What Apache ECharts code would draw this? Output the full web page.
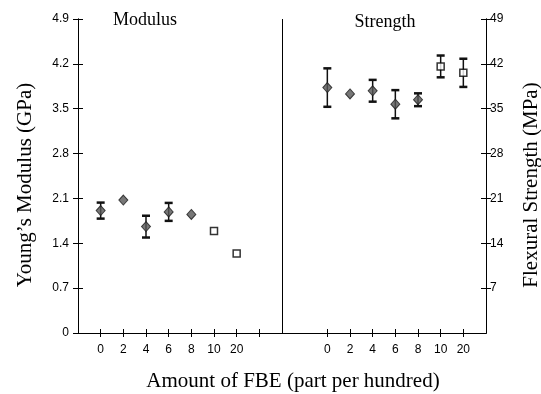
<!DOCTYPE html>
<html>
<head>
<meta charset="utf-8">
<style>html,body{margin:0;padding:0;background:#fff}#c{width:541px;height:394px}</style>
<script src="https://cdn.jsdelivr.net/npm/echarts@6/dist/echarts.min.js"></script>
</head>
<body>
<div id="c"></div>
<script>
// ---- data ----
var categories = ['0', '2', '4', '6', '8', '10', '20'];
var modulusMean = [1.91, 2.075, 1.66, 1.89, 1.85, 1.59, 1.24];
var modulusErr  = [0.125, 0, 0.17, 0.14, 0, 0, 0];
var strengthMean = [38.3, 37.3, 37.8, 35.7, 36.4, 41.6, 40.6];
var strengthErr  = [3.0, 0, 1.7, 2.2, 1.0, 1.7, 2.2];
var modulusTicks = [0, 0.7, 1.4, 2.1, 2.8, 3.5, 4.2, 4.9];
var strengthTicks = [0, 7, 14, 21, 28, 35, 42, 49];

// ---- layout helpers (slots on the shared x axis) ----
var NSLOT = 19;
var leftStart = 1, rightStart = 11, divider = 9;
var slots = [], slotLabel = {};
for (var s = 0; s < NSLOT; s++) slots.push(String(s));
categories.forEach(function (c, i) { slotLabel[leftStart + i] = c; slotLabel[rightStart + i] = c; });
function tickSlot(i) { return (i >= 1 && i <= 8) || (i >= 11 && i <= 17); }

function pts(means, start, from, to) {
  var out = [];
  for (var i = from; i < to; i++) out.push([start + i, means[i]]);
  return out;
}
function errs(means, e, start) {
  var out = [];
  for (var i = 0; i < means.length; i++) if (e[i] > 0) out.push([start + i, means[i] - e[i], means[i] + e[i]]);
  return out;
}
function errRender(params, api) {
  var x = api.value(0);
  var lo = api.coord([x, api.value(1)]);
  var hi = api.coord([x, api.value(2)]);
  var w = 4;
  return {
    type: 'group',
    children: [
      { type: 'line', shape: { x1: lo[0], y1: lo[1], x2: hi[0], y2: hi[1] }, style: { stroke: '#111', lineWidth: 1.5 } },
      { type: 'line', shape: { x1: lo[0] - w, y1: lo[1], x2: lo[0] + w, y2: lo[1] }, style: { stroke: '#111', lineWidth: 2.5 } },
      { type: 'line', shape: { x1: hi[0] - w, y1: hi[1], x2: hi[0] + w, y2: hi[1] }, style: { stroke: '#111', lineWidth: 2.5 } }
    ]
  };
}

var sans = 'Liberation Sans, Arial, sans-serif';
var serif = 'Liberation Serif, Times New Roman, serif';
var grid = { left: 78, right: 55, top: 19, bottom: 61 };

function xAx(main) {
  return {
    type: 'category', data: slots, boundaryGap: false,
    position: 'bottom',
    axisLine: { show: true, onZero: false, lineStyle: { color: '#000', width: 1 } },
    axisTick: { show: true, inside: !main, length: 4, interval: function (i) { return tickSlot(i); }, lineStyle: { color: '#000', width: 1 } },
    axisLabel: { show: main, interval: 0, margin: 11, color: '#000', fontFamily: sans, fontSize: 12,
      formatter: function (v, i) { return slotLabel[i] || ''; } },
    splitLine: { show: false }
  };
}
function yAx(pos, max, interval, main, fmt, showMin) {
  return {
    type: 'value', position: pos, min: 0, max: max, interval: interval,
    axisLine: { show: true, onZero: false, lineStyle: { color: '#000', width: 1 } },
    axisTick: { show: true, inside: !main, length: 5, lineStyle: { color: '#000', width: 1 } },
    axisLabel: { show: main, showMinLabel: showMin, margin: pos === 'left' ? 9 : 4, color: '#000', fontFamily: sans, fontSize: 12, formatter: fmt },
    splitLine: { show: false }
  };
}
var fmtMod = function (v) { return v === 0 ? '0' : (Math.round(v * 10) / 10).toFixed(1); };
var fmtStr = function (v) { return String(Math.round(v)); };

var diamond = { color: '#555', borderColor: '#1a1a1a', borderWidth: 1 };
var square = { color: '#fff', borderColor: '#000', borderWidth: 1.5 };

var option = {
  animation: false,
  backgroundColor: '#fff',
  grid: grid,
  xAxis: [xAx(true), xAx(false)],
  yAxis: [
    yAx('left', modulusTicks[modulusTicks.length - 1], modulusTicks[1], true, fmtMod, true),
    yAx('left', modulusTicks[modulusTicks.length - 1], modulusTicks[1], false, fmtMod, true),
    yAx('right', strengthTicks[strengthTicks.length - 1], strengthTicks[1], true, fmtStr, false),
    yAx('right', strengthTicks[strengthTicks.length - 1], strengthTicks[1], false, fmtStr, false)
  ],
  series: [
    { type: 'custom', name: 'modErr', xAxisIndex: 0, yAxisIndex: 0, renderItem: errRender, data: errs(modulusMean, modulusErr, leftStart), z: 2,
      markLine: { silent: true, symbol: 'none', label: { show: false }, lineStyle: { color: '#000', width: 1, type: 'solid' }, data: [{ xAxis: divider }] } },
    { type: 'custom', name: 'strErr', xAxisIndex: 0, yAxisIndex: 2, renderItem: errRender, data: errs(strengthMean, strengthErr, rightStart), z: 2 },
    { type: 'scatter', xAxisIndex: 0, yAxisIndex: 0, symbol: 'diamond', symbolSize: [9, 10], itemStyle: diamond, data: pts(modulusMean, leftStart, 0, 5), z: 3 },
    { type: 'scatter', xAxisIndex: 0, yAxisIndex: 0, symbol: 'rect', symbolSize: 7, itemStyle: square, data: pts(modulusMean, leftStart, 5, 7), z: 3 },
    { type: 'scatter', xAxisIndex: 0, yAxisIndex: 2, symbol: 'diamond', symbolSize: [9, 10], itemStyle: diamond, data: pts(strengthMean, rightStart, 0, 5), z: 3 },
    { type: 'scatter', xAxisIndex: 0, yAxisIndex: 2, symbol: 'rect', symbolSize: 7, itemStyle: square, data: pts(strengthMean, rightStart, 5, 7), z: 3 }
  ],
  graphic: [
    { type: 'text', x: 145, y: 20, style: { text: 'Modulus', font: '18px ' + serif, fill: '#000', align: 'center', verticalAlign: 'middle' } },
    { type: 'text', x: 385, y: 22, style: { text: 'Strength', font: '18px ' + serif, fill: '#000', align: 'center', verticalAlign: 'middle' } },
    { type: 'text', x: 25, y: 185, rotation: Math.PI / 2, style: { text: 'Young\u2019s Modulus (GPa)', font: '21px ' + serif, fill: '#000', align: 'center', verticalAlign: 'middle' } },
    { type: 'text', x: 531, y: 185, rotation: Math.PI / 2, style: { text: 'Flexural Strength (MPa)', font: '21px ' + serif, fill: '#000', align: 'center', verticalAlign: 'middle' } },
    { type: 'text', x: 293, y: 381, style: { text: 'Amount of FBE (part per hundred)', font: '21px ' + serif, fill: '#000', align: 'center', verticalAlign: 'middle' } }
  ]
};
var chart = echarts.init(document.getElementById('c'), null, { renderer: 'canvas' });
chart.setOption(option);
</script>
</body>
</html>
